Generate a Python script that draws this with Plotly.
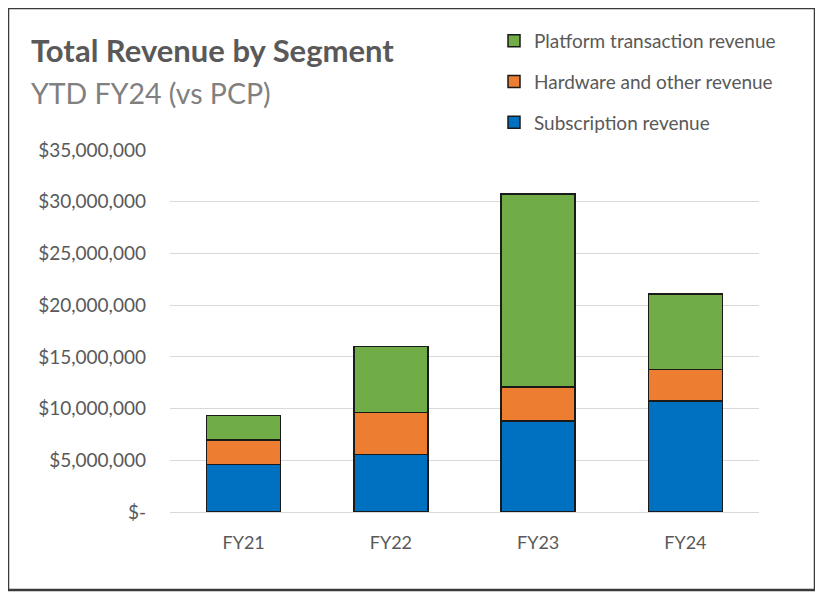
import plotly.graph_objects as go

years = ["FY21", "FY22", "FY23", "FY24"]
subscription = [4.61e6, 5.58e6, 8.80e6, 10.73e6]
hardware = [2.35e6, 4.02e6, 3.29e6, 3.03e6]
platform = [2.35e6, 6.39e6, 18.66e6, 7.32e6]

tick_vals = [0, 5e6, 10e6, 15e6, 20e6, 25e6, 30e6, 35e6]
tick_text = ["$-", "$5,000,000", "$10,000,000", "$15,000,000", "$20,000,000",
             "$25,000,000", "$30,000,000", "$35,000,000"]

series = [
    ("Subscription revenue", subscription, "#0070C0", 3),
    ("Hardware and other revenue", hardware, "#ED7D31", 2),
    ("Platform transaction revenue", platform, "#70AD47", 1),
]

fig = go.Figure()
for name, vals, col, rank in series:
    fig.add_trace(go.Bar(
        x=years, y=vals, name=name, legendgroup=name, legendrank=rank,
        marker=dict(color=col, line=dict(color="#1a1a1a", width=1.5)),
    ))

# page body has an 8px margin; figure is sized to fill the rest of the window
OFF = 8
W, H = 823 - OFF, 597 - OFF
L, R, T, B = 170 - OFF, 759 - OFF, 150 - OFF, 512 - OFF
pw, ph = R - L, B - T

def px(x):
    return (x - OFF - L) / pw

def py(y):
    return (B - (y - OFF)) / ph

fig.update_layout(
    width=W, height=H,
    margin=dict(l=L, r=W - R, t=T, b=H - B),
    barmode="stack", bargap=0.497,
    plot_bgcolor="white", paper_bgcolor="white",
    font=dict(family="Lato, Open Sans, sans-serif", color="#595959", size=18),
    showlegend=True,
    legend=dict(
        x=px(494), y=py(22), xanchor="left", yanchor="top",
        traceorder="grouped", tracegroupgap=13,
        font=dict(size=19, color="#595959"),
        bgcolor="rgba(0,0,0,0)", itemwidth=30,
    ),
    xaxis=dict(
        showgrid=False, showline=False, zeroline=False,
        ticks="", ticklabelstandoff=18,
        tickfont=dict(size=18, color="#595959"),
    ),
    yaxis=dict(
        range=[0, 35e6], tickvals=tick_vals, ticktext=tick_text,
        showgrid=True, gridcolor="#d9d9d9", gridwidth=1,
        zeroline=True, zerolinecolor="#d9d9d9", zerolinewidth=1,
        showline=False, ticks="", ticklabelstandoff=23,
        tickfont=dict(size=19, color="#595959"),
    ),
    shapes=[dict(
        type="rect", xref="paper", yref="paper",
        x0=px(8), x1=px(815), y0=py(590), y1=py(8),
        line=dict(color="#3a3a3a", width=2.5), fillcolor="rgba(0,0,0,0)",
        layer="below",
    )],
    annotations=[
        dict(text="<b>Total Revenue by Segment</b>", xref="paper", yref="paper",
             x=px(29), y=py(50), xanchor="left", yanchor="middle",
             showarrow=False, font=dict(size=31, color="#595959")),
        dict(text="YTD FY24 (vs PCP)", xref="paper", yref="paper",
             x=px(29), y=py(93), xanchor="left", yanchor="middle",
             showarrow=False, font=dict(size=28.5, color="#808080")),
    ],
)

fig.write_html("out.html")
